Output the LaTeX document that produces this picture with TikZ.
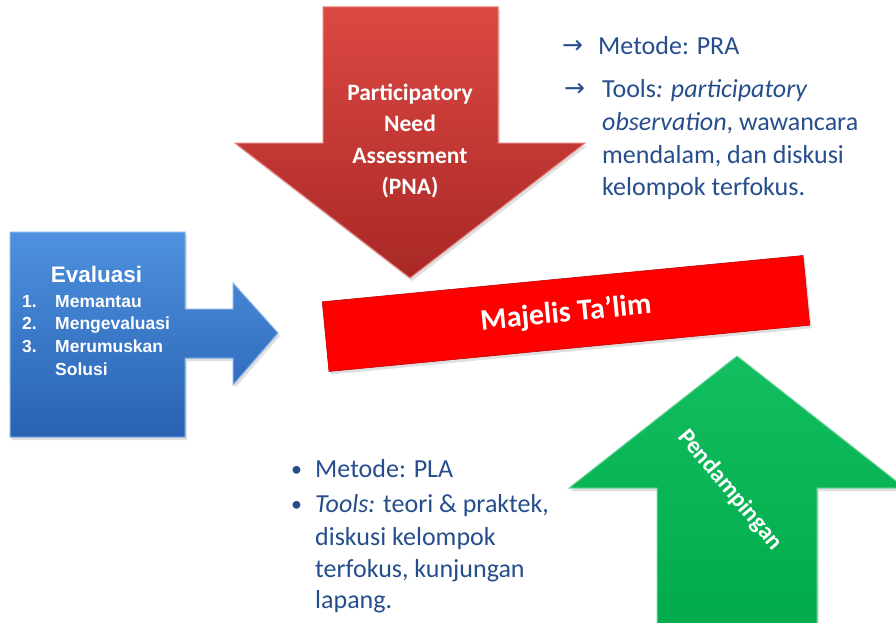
\documentclass[tikz,border=0pt]{standalone}
\usepackage{fontspec}
\setmainfont{Carlito}
\newfontfamily\arialf{Liberation Sans}
\newfontfamily\djv{DejaVu Sans}
\usetikzlibrary{shadows}
\definecolor{txtblue}{RGB}{38,78,140}
\definecolor{redtop}{RGB}{220,72,66}
\definecolor{redbot}{RGB}{168,40,38}
\definecolor{bluetop}{RGB}{78,145,222}
\definecolor{bluebot}{RGB}{40,98,178}
\definecolor{greentop}{RGB}{18,190,95}
\definecolor{greenbot}{RGB}{0,170,75}
\tikzset{
  softshadow/.style={drop shadow={opacity=0.25,shadow xshift=2pt,shadow yshift=-3pt}},
  bodytext/.style={inner sep=0pt,anchor=base west,text=txtblue,font=\fontsize{26}{31}\selectfont},
  arrowglyph/.style={inner sep=0pt,anchor=base west,text=txtblue,font=\djv\fontsize{25}{28}\selectfont},
  bulletglyph/.style={inner sep=0pt,anchor=base west,text=txtblue,font=\fontsize{22}{26}\selectfont},
  evaltext/.style={inner sep=0pt,anchor=base west,text=white,font=\arialf\bfseries\fontsize{17.5}{21}\selectfont},
}
\begin{document}
\begin{tikzpicture}[x=1pt,y=-1pt]
\clip (0,0) rectangle (896,623);
\fill[white] (0,0) rectangle (896,623);

% red down arrow
\path[softshadow,top color=redtop,bottom color=redbot,draw=redtop!70!white,line width=1pt]
  (323,7) -- (498,7) -- (498,143) -- (585,143) -- (410,278) -- (235,143) -- (323,143) -- cycle;
\node[inner sep=0pt,align=center,text=white,font=\bfseries\fontsize{23.5}{31.5}\selectfont] (pna) at (410,141)
  {Participatory\\Need\\Assessment\\(PNA)};

% blue box arrow
\path[softshadow,top color=bluetop,bottom color=bluebot,draw=bluetop!70!white,line width=1pt]
  (10,232) -- (185,232) -- (185,309) -- (233,309) -- (233,283) -- (278,333) -- (233,385)
  -- (233,358) -- (185,358) -- (185,437) -- (10,437) -- cycle;
\node[inner sep=0pt,anchor=base,text=white,font=\arialf\bfseries\fontsize{22.5}{26}\selectfont] (eval) at (96.5,282) {Evaluasi};
\node[evaltext] (n1) at (22,307) {1.};
\node[evaltext] (i1) at (55,307) {Memantau};
\node[evaltext] (n2) at (22,329) {2.};
\node[evaltext] (i2) at (55,329) {Mengevaluasi};
\node[evaltext] (n3) at (22,352) {3.};
\node[evaltext] (i3) at (55,352) {Merumuskan};
\node[evaltext] (i4) at (55,375) {Solusi};

% green up arrow
\path[softshadow,top color=greentop,bottom color=greenbot,draw=greentop!60!white,line width=1pt]
  (657,640) -- (657,488) -- (569,488) -- (737,356) -- (905,488) -- (817,488) -- (817,640) -- cycle;
\node[inner sep=0pt,rotate=-50,text=white,font=\bfseries\fontsize{24}{28}\selectfont] (pend) at (730,490) {Pendampingan};

% central red bar
\node[softshadow,fill=red,draw=red!75!black,line width=0.6pt,minimum width=483pt,minimum height=70pt,
  rotate=5.5,inner sep=0pt,text=white,font=\bfseries\fontsize{30}{34}\selectfont] (mt) at (566,313.5) {Majelis Ta’lim};

% top right text
\node[arrowglyph] (a1) at (562,54) {→};
\node[bodytext] (t1) at (598,55) {Metode: PRA};
\node[arrowglyph] (a2) at (564,97) {→};
\node[bodytext] (t2) at (602,98) {Tools\textit{: participatory}};
\node[bodytext] (t3) at (602,130) {\textit{observation}, wawancara};
\node[bodytext] (t4) at (602,163) {mendalam, dan diskusi};
\node[bodytext] (t5) at (602,195) {kelompok terfokus.};

% bottom text
\node[bulletglyph] (b1) at (291,476) {•};
\node[bodytext] (m1) at (315,477) {Metode: PLA};
\node[bulletglyph] (b2) at (291,511) {•};
\node[bodytext] (m2) at (315,512) {\textit{Tools:} teori \& praktek,};
\node[bodytext] (m3) at (315,545) {diskusi kelompok};
\node[bodytext] (m4) at (315,577) {terfokus, kunjungan};
\node[bodytext] (m5) at (315,608) {lapang.};
\end{tikzpicture}
\end{document}
